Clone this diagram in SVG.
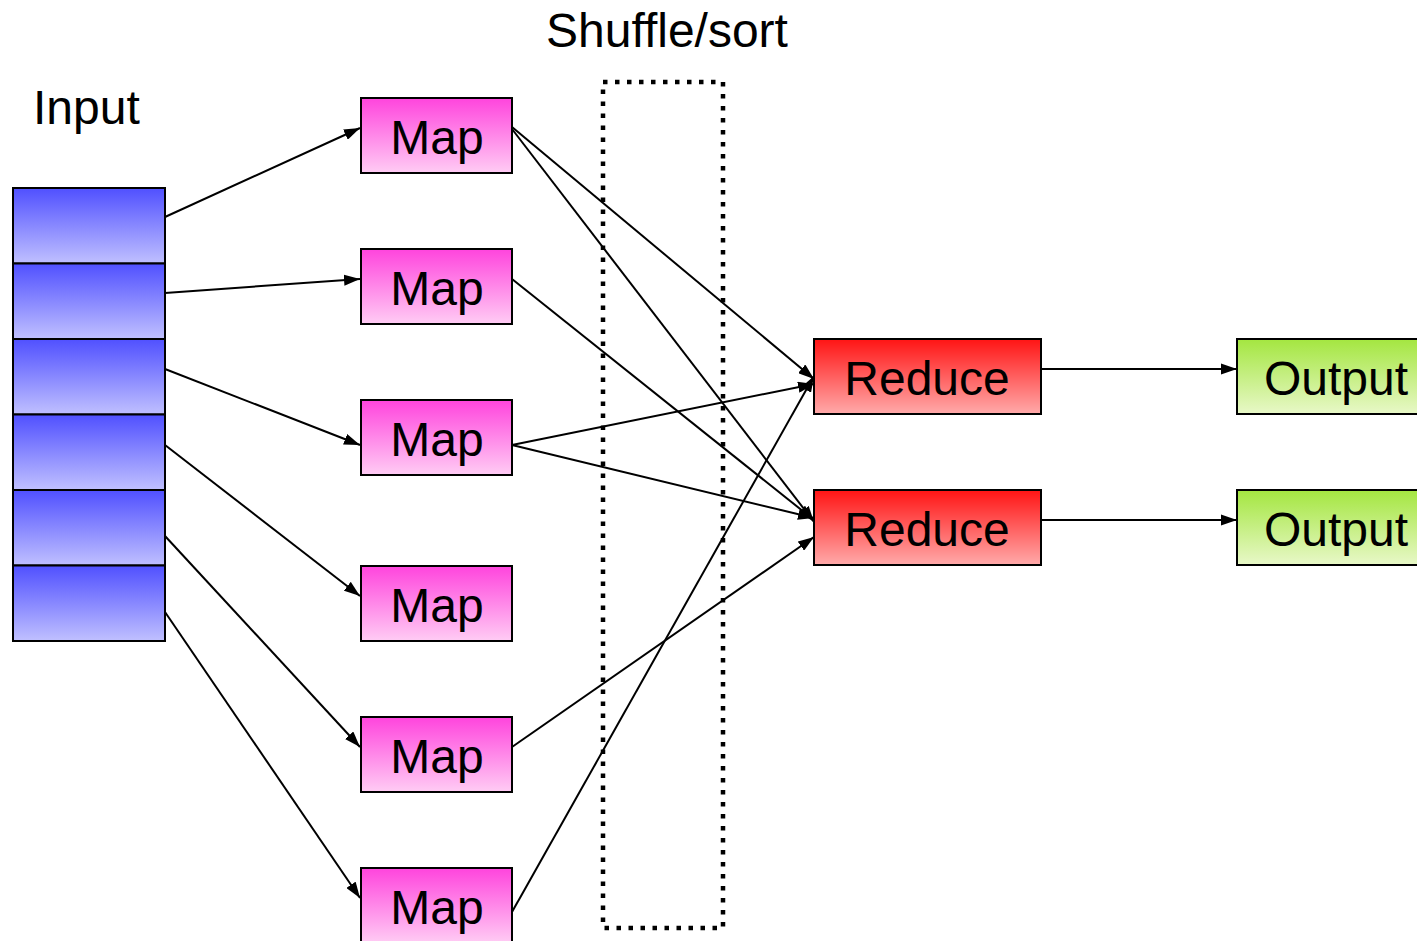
<svg xmlns="http://www.w3.org/2000/svg" width="1417" height="941" viewBox="0 0 1417 941">
<style>
.lbl{font-family:"Liberation Sans",Arial,sans-serif;font-size:48px;fill:#000}
.c{text-anchor:middle}
.box{stroke:#000;stroke-width:2}
.ln{stroke:#000;stroke-width:2;fill:none;marker-end:url(#ah)}
</style>
<defs>
<linearGradient id="gIn" x1="0" y1="0" x2="0" y2="1"><stop offset="0" stop-color="#5050ff"/><stop offset="1" stop-color="#c0c0ff"/></linearGradient>
<linearGradient id="gMap" x1="0" y1="0" x2="0" y2="1"><stop offset="0" stop-color="#ff44dd"/><stop offset="1" stop-color="#ffccf4"/></linearGradient>
<linearGradient id="gRed" x1="0" y1="0" x2="0" y2="1"><stop offset="0" stop-color="#ff1414"/><stop offset="1" stop-color="#ffaaaa"/></linearGradient>
<linearGradient id="gOut" x1="0" y1="0" x2="0" y2="1"><stop offset="0" stop-color="#a4e640"/><stop offset="1" stop-color="#e8f8c8"/></linearGradient>
<marker id="ah" viewBox="0 0 10 7" refX="10" refY="3.5" markerWidth="8" markerHeight="5.6" orient="auto" markerUnits="strokeWidth"><path d="M0,0L10,3.5L0,7z" fill="#000"/></marker>
</defs>
<rect width="1417" height="941" fill="#fff"/>
<text class="lbl" x="33" y="124">Input</text>
<text class="lbl" x="546" y="47">Shuffle/sort</text>
<rect x="603" y="82" width="120" height="846" fill="none" stroke="#000" stroke-width="4.5" stroke-dasharray="4.5,7.5"/>
<g id="input">
<rect class="box" x="13" y="188" width="152" height="75.5" fill="url(#gIn)"/>
<rect class="box" x="13" y="263.5" width="152" height="75.5" fill="url(#gIn)"/>
<rect class="box" x="13" y="339" width="152" height="75.5" fill="url(#gIn)"/>
<rect class="box" x="13" y="414.5" width="152" height="75.5" fill="url(#gIn)"/>
<rect class="box" x="13" y="490" width="152" height="75.5" fill="url(#gIn)"/>
<rect class="box" x="13" y="565.5" width="152" height="75.5" fill="url(#gIn)"/>
</g>
<g id="map1"><rect class="box" x="361" y="98" width="151" height="75" fill="url(#gMap)"/><text class="lbl c" x="437" y="154">Map</text></g>
<g id="map2"><rect class="box" x="361" y="249" width="151" height="75" fill="url(#gMap)"/><text class="lbl c" x="437" y="305">Map</text></g>
<g id="map3"><rect class="box" x="361" y="400" width="151" height="75" fill="url(#gMap)"/><text class="lbl c" x="437" y="456">Map</text></g>
<g id="map4"><rect class="box" x="361" y="566" width="151" height="75" fill="url(#gMap)"/><text class="lbl c" x="437" y="622">Map</text></g>
<g id="map5"><rect class="box" x="361" y="717" width="151" height="75" fill="url(#gMap)"/><text class="lbl c" x="437" y="773">Map</text></g>
<g id="map6"><rect class="box" x="361" y="868" width="151" height="75" fill="url(#gMap)"/><text class="lbl c" x="437" y="924">Map</text></g>
<g id="reduce1"><rect class="box" x="814" y="339" width="227" height="75" fill="url(#gRed)"/><text class="lbl c" x="927" y="395">Reduce</text></g>
<g id="reduce2"><rect class="box" x="814" y="490" width="227" height="75" fill="url(#gRed)"/><text class="lbl c" x="927" y="546">Reduce</text></g>
<g id="output1"><rect class="box" x="1237" y="339" width="190" height="75" fill="url(#gOut)"/><text class="lbl" x="1264" y="395">Output</text></g>
<g id="output2"><rect class="box" x="1237" y="490" width="190" height="75" fill="url(#gOut)"/><text class="lbl" x="1264" y="546">Output</text></g>
<g id="connectors">
<line class="ln" x1="165" y1="217" x2="360" y2="128"/>
<line class="ln" x1="165" y1="293" x2="360" y2="279"/>
<line class="ln" x1="165" y1="369" x2="360" y2="445"/>
<line class="ln" x1="165" y1="445" x2="360" y2="596"/>
<line class="ln" x1="165" y1="536" x2="360" y2="747"/>
<line class="ln" x1="165" y1="612" x2="360" y2="898"/>
<line class="ln" x1="512" y1="127" x2="814" y2="379"/>
<line class="ln" x1="512" y1="129" x2="814" y2="522"/>
<line class="ln" x1="512" y1="279" x2="814" y2="520"/>
<line class="ln" x1="512" y1="445" x2="814" y2="384"/>
<line class="ln" x1="512" y1="445" x2="814" y2="518"/>
<line class="ln" x1="512" y1="747" x2="814" y2="537"/>
<line class="ln" x1="512" y1="912" x2="814" y2="376"/>
<line class="ln" x1="1041" y1="369" x2="1237" y2="369"/>
<line class="ln" x1="1041" y1="520" x2="1237" y2="520"/>
</g>
</svg>
